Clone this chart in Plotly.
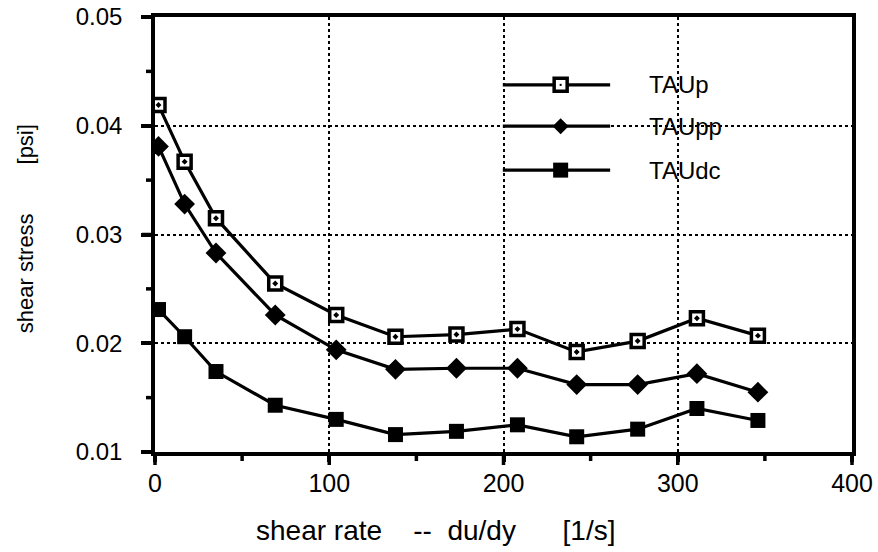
import plotly.graph_objects as go

# Shear rate (1/s) and shear stress (psi) for the three stress estimates
shear_rate = [2, 17, 35, 69, 104, 138, 173, 208, 242, 277, 311, 346]
tau_p = [0.0419, 0.0367, 0.0315, 0.0255, 0.0226, 0.0206, 0.0208, 0.0213, 0.0192, 0.0202, 0.0223, 0.0207]
tau_pp = [0.0381, 0.0328, 0.0283, 0.0226, 0.0194, 0.0176, 0.0177, 0.0177, 0.0162, 0.0162, 0.0172, 0.0155]
tau_dc = [0.0231, 0.0206, 0.0174, 0.0143, 0.0130, 0.0116, 0.0119, 0.0125, 0.0114, 0.0121, 0.0140, 0.0129]

series_names = ["TAUp", "TAUpp", "TAUdc"]
series_values = [tau_p, tau_pp, tau_dc]

X_RANGE = [0, 400]
Y_RANGE = [0.01, 0.05]
x_major = [0, 100, 200, 300, 400]
x_minor = [50, 150, 250, 350]
y_major = [0.01, 0.02, 0.03, 0.04, 0.05]
y_minor = [0.015, 0.025, 0.035, 0.045]

FONT = "Liberation Sans, Arial, sans-serif"
BLACK = "#000000"
NB = "\u00a0"

marker_styles = [
    dict(symbol="square-dot", size=13, color="white", line=dict(color=BLACK, width=3.5)),
    dict(symbol="diamond", size=16, color=BLACK, line=dict(color=BLACK, width=0)),
    dict(symbol="square", size=15, color=BLACK, line=dict(color=BLACK, width=0)),
]

fig = go.Figure()

for name, vals, mk in zip(series_names, series_values, marker_styles):
    fig.add_trace(go.Scatter(
        x=shear_rate, y=vals, name=name, mode="lines+markers",
        line=dict(color=BLACK, width=3.2), marker=mk, showlegend=False,
    ))

# Key in the upper middle of the plot: a line sample, a glyph and a label per series
key_rows = [0.844, 0.749, 0.648]
key_x0, key_x1, key_mark, key_text = 0.499, 0.653, 0.582, 0.706


def glyph(kind, yk):
    common = dict(xref="paper", yref="paper", xsizemode="pixel", ysizemode="pixel",
                  xanchor=key_mark, yanchor=yk)
    if kind == "open":
        return [
            dict(type="rect", x0=-6.5, x1=6.5, y0=-6.5, y1=6.5, fillcolor="white",
                 line=dict(color=BLACK, width=3.5), **common),
            dict(type="rect", x0=-1, x1=1, y0=-1, y1=1, fillcolor=BLACK,
                 line=dict(width=0), **common),
        ]
    if kind == "diamond":
        return [dict(type="path", path="M -8 0 L 0 8 L 8 0 L 0 -8 Z", fillcolor=BLACK,
                     line=dict(width=0), **common)]
    return [dict(type="rect", x0=-7.5, x1=7.5, y0=-7.5, y1=7.5, fillcolor=BLACK,
                 line=dict(width=0), **common)]


for name, yk, kind in zip(series_names, key_rows, ["open", "diamond", "filled"]):
    fig.add_shape(type="line", xref="paper", yref="paper", x0=key_x0, x1=key_x1,
                  y0=yk, y1=yk, line=dict(color=BLACK, width=3.2))
    for shp in glyph(kind, yk):
        fig.add_shape(**shp)
    fig.add_annotation(
        x=key_text, y=yk, xref="paper", yref="paper", text=name, showarrow=False,
        xanchor="left", yanchor="middle", font=dict(family=FONT, size=24, color=BLACK),
    )


# Outward tick marks along the bottom and left axes (long major, short minor)
def frac(v, rng):
    return (v - rng[0]) / (rng[1] - rng[0])


for vals, length in ((x_major, 13), (x_minor, 9)):
    for v in vals:
        fig.add_shape(type="line", xref="paper", yref="paper", ysizemode="pixel", yanchor=0,
                      x0=frac(v, X_RANGE), x1=frac(v, X_RANGE), y0=0, y1=-length,
                      line=dict(color=BLACK, width=3.5))
for vals, length in ((y_major, 13), (y_minor, 9)):
    for v in vals:
        fig.add_shape(type="line", xref="paper", yref="paper", xsizemode="pixel", xanchor=0,
                      y0=frac(v, Y_RANGE), y1=frac(v, Y_RANGE), x0=0, x1=-length,
                      line=dict(color=BLACK, width=3.5))

# Axis titles
fig.add_annotation(
    x=0.402, y=-0.18, xref="paper", yref="paper",
    text="shear rate" + NB * 4 + "--" + NB * 2 + "du/dy" + NB * 6 + "[1/s]",
    showarrow=False, xanchor="center", yanchor="middle",
    font=dict(family=FONT, size=28, color=BLACK),
)
fig.add_annotation(
    x=-0.186, y=0.513, xref="paper", yref="paper", textangle=-90,
    text="shear stress" + NB * 8 + "[psi]",
    showarrow=False, xanchor="center", yanchor="middle",
    font=dict(family=FONT, size=22, color=BLACK),
)

fig.update_layout(
    width=878, height=552,
    margin=dict(l=155, r=26, t=17, b=100, autoexpand=False),
    paper_bgcolor="white", plot_bgcolor="white",
    font=dict(family=FONT, size=24, color=BLACK),
    xaxis=dict(
        range=X_RANGE, tickmode="array", tickvals=x_major, automargin=False,
        ticks="outside", ticklen=6, tickwidth=3.5, ticklabelstandoff=0,
        tickcolor=BLACK, showline=True, linecolor=BLACK, linewidth=3.5, mirror=True,
        showgrid=True, gridcolor=BLACK, gridwidth=2, griddash="dot", zeroline=False,
        tickfont=dict(family=FONT, size=25),
    ),
    yaxis=dict(
        range=Y_RANGE, tickmode="array", tickvals=y_major, tickformat=".2f",
        automargin=False, ticks="outside", ticklen=10, tickwidth=3.5, ticklabelstandoff=14,
        tickcolor=BLACK, showline=True, linecolor=BLACK, linewidth=3.5, mirror=True,
        showgrid=True, gridcolor=BLACK, gridwidth=2, griddash="dot", zeroline=False,
        tickfont=dict(family=FONT, size=24),
    ),
)

fig.write_html("out.html")
